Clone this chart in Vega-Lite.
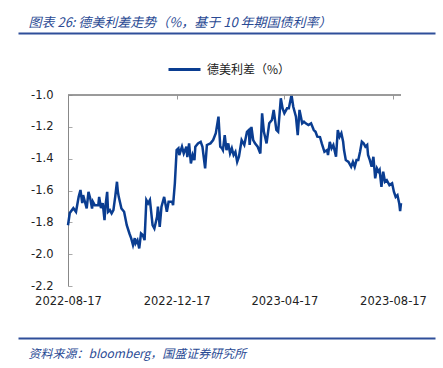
{
  "$schema": "https://vega.github.io/schema/vega-lite/v6.json",
  "width": 417,
  "height": 191,
  "autosize": {"type": "none"},
  "padding": {"left": 18, "top": 95, "right": 8, "bottom": 82},
  "background": "white",
  "config": {
    "view": {"stroke": null},
    "axis": {"grid": false}
  },
  "resolve": {"axis": {"x": "independent", "y": "independent"}},
  "data": {"values": [
    {"d": "2022-08-17", "v": -1.818}, {"d": "2022-08-19", "v": -1.742}, {"d": "2022-08-23", "v": -1.711}, {"d": "2022-08-26", "v": -1.734},
    {"d": "2022-08-29", "v": -1.64}, {"d": "2022-08-31", "v": -1.597}, {"d": "2022-09-02", "v": -1.679}, {"d": "2022-09-03", "v": -1.629},
    {"d": "2022-09-05", "v": -1.671}, {"d": "2022-09-07", "v": -1.713}, {"d": "2022-09-09", "v": -1.608}, {"d": "2022-09-11", "v": -1.65},
    {"d": "2022-09-13", "v": -1.713}, {"d": "2022-09-14", "v": -1.671}, {"d": "2022-09-16", "v": -1.692}, {"d": "2022-09-20", "v": -1.692},
    {"d": "2022-09-21", "v": -1.64}, {"d": "2022-09-23", "v": -1.711}, {"d": "2022-09-25", "v": -1.679}, {"d": "2022-09-27", "v": -1.786},
    {"d": "2022-09-28", "v": -1.702}, {"d": "2022-09-30", "v": -1.608}, {"d": "2022-10-01", "v": -1.734}, {"d": "2022-10-03", "v": -1.723},
    {"d": "2022-10-05", "v": -1.744}, {"d": "2022-10-07", "v": -1.723}, {"d": "2022-10-09", "v": -1.64}, {"d": "2022-10-11", "v": -1.545},
    {"d": "2022-10-12", "v": -1.608}, {"d": "2022-10-13", "v": -1.64}, {"d": "2022-10-16", "v": -1.713}, {"d": "2022-10-19", "v": -1.734},
    {"d": "2022-10-22", "v": -1.818}, {"d": "2022-10-25", "v": -1.87}, {"d": "2022-10-27", "v": -1.901}, {"d": "2022-10-29", "v": -1.943},
    {"d": "2022-10-31", "v": -1.899}, {"d": "2022-11-01", "v": -1.932}, {"d": "2022-11-03", "v": -1.912}, {"d": "2022-11-05", "v": -1.964},
    {"d": "2022-11-07", "v": -1.87}, {"d": "2022-11-09", "v": -1.88}, {"d": "2022-11-11", "v": -1.912}, {"d": "2022-11-13", "v": -1.66},
    {"d": "2022-11-15", "v": -1.681}, {"d": "2022-11-17", "v": -1.66}, {"d": "2022-11-20", "v": -1.818}, {"d": "2022-11-22", "v": -1.839},
    {"d": "2022-11-25", "v": -1.765}, {"d": "2022-11-26", "v": -1.702}, {"d": "2022-11-28", "v": -1.828}, {"d": "2022-11-30", "v": -1.702},
    {"d": "2022-12-03", "v": -1.64}, {"d": "2022-12-06", "v": -1.734}, {"d": "2022-12-08", "v": -1.671}, {"d": "2022-12-12", "v": -1.671},
    {"d": "2022-12-13", "v": -1.692}, {"d": "2022-12-15", "v": -1.555}, {"d": "2022-12-17", "v": -1.346}, {"d": "2022-12-19", "v": -1.335},
    {"d": "2022-12-20", "v": -1.377}, {"d": "2022-12-23", "v": -1.325}, {"d": "2022-12-25", "v": -1.367}, {"d": "2022-12-28", "v": -1.325},
    {"d": "2022-12-29", "v": -1.39}, {"d": "2022-12-31", "v": -1.304}, {"d": "2023-01-02", "v": -1.43}, {"d": "2023-01-04", "v": -1.377},
    {"d": "2023-01-06", "v": -1.409}, {"d": "2023-01-07", "v": -1.325}, {"d": "2023-01-10", "v": -1.304}, {"d": "2023-01-13", "v": -1.294},
    {"d": "2023-01-15", "v": -1.325}, {"d": "2023-01-18", "v": -1.461}, {"d": "2023-01-20", "v": -1.314}, {"d": "2023-01-24", "v": -1.304},
    {"d": "2023-01-27", "v": -1.283}, {"d": "2023-01-30", "v": -1.24}, {"d": "2023-02-02", "v": -1.136}, {"d": "2023-02-04", "v": -1.325},
    {"d": "2023-02-06", "v": -1.335}, {"d": "2023-02-07", "v": -1.346}, {"d": "2023-02-09", "v": -1.252}, {"d": "2023-02-11", "v": -1.346},
    {"d": "2023-02-13", "v": -1.304}, {"d": "2023-02-15", "v": -1.367}, {"d": "2023-02-17", "v": -1.335}, {"d": "2023-02-19", "v": -1.377},
    {"d": "2023-02-21", "v": -1.357}, {"d": "2023-02-23", "v": -1.42}, {"d": "2023-02-25", "v": -1.388}, {"d": "2023-02-28", "v": -1.283},
    {"d": "2023-03-03", "v": -1.314}, {"d": "2023-03-06", "v": -1.231}, {"d": "2023-03-08", "v": -1.22}, {"d": "2023-03-09", "v": -1.314},
    {"d": "2023-03-11", "v": -1.2}, {"d": "2023-03-13", "v": -1.283}, {"d": "2023-03-15", "v": -1.304}, {"d": "2023-03-18", "v": -1.325},
    {"d": "2023-03-21", "v": -1.367}, {"d": "2023-03-23", "v": -1.115}, {"d": "2023-03-25", "v": -1.231}, {"d": "2023-03-28", "v": -1.304},
    {"d": "2023-03-31", "v": -1.178}, {"d": "2023-04-03", "v": -1.157}, {"d": "2023-04-05", "v": -1.094}, {"d": "2023-04-08", "v": -1.22},
    {"d": "2023-04-10", "v": -1.231}, {"d": "2023-04-13", "v": -1.021}, {"d": "2023-04-15", "v": -1.084}, {"d": "2023-04-17", "v": -1.115},
    {"d": "2023-04-20", "v": -1.084}, {"d": "2023-04-22", "v": -1.084}, {"d": "2023-04-25", "v": -1.0}, {"d": "2023-04-27", "v": -1.074},
    {"d": "2023-04-30", "v": -1.136}, {"d": "2023-05-02", "v": -1.252}, {"d": "2023-05-04", "v": -1.094}, {"d": "2023-05-07", "v": -1.178},
    {"d": "2023-05-09", "v": -1.168}, {"d": "2023-05-11", "v": -1.178}, {"d": "2023-05-14", "v": -1.189}, {"d": "2023-05-17", "v": -1.178},
    {"d": "2023-05-20", "v": -1.22}, {"d": "2023-05-22", "v": -1.231}, {"d": "2023-05-24", "v": -1.262}, {"d": "2023-05-27", "v": -1.264},
    {"d": "2023-05-29", "v": -1.304}, {"d": "2023-06-01", "v": -1.357}, {"d": "2023-06-04", "v": -1.346}, {"d": "2023-06-05", "v": -1.377},
    {"d": "2023-06-07", "v": -1.294}, {"d": "2023-06-09", "v": -1.335}, {"d": "2023-06-11", "v": -1.314}, {"d": "2023-06-14", "v": -1.388},
    {"d": "2023-06-16", "v": -1.22}, {"d": "2023-06-18", "v": -1.262}, {"d": "2023-06-20", "v": -1.24}, {"d": "2023-06-22", "v": -1.294},
    {"d": "2023-06-23", "v": -1.346}, {"d": "2023-06-25", "v": -1.409}, {"d": "2023-06-28", "v": -1.42}, {"d": "2023-07-01", "v": -1.451},
    {"d": "2023-07-03", "v": -1.42}, {"d": "2023-07-05", "v": -1.451}, {"d": "2023-07-07", "v": -1.409}, {"d": "2023-07-09", "v": -1.409},
    {"d": "2023-07-11", "v": -1.357}, {"d": "2023-07-13", "v": -1.294}, {"d": "2023-07-15", "v": -1.304}, {"d": "2023-07-17", "v": -1.325},
    {"d": "2023-07-19", "v": -1.314}, {"d": "2023-07-20", "v": -1.377}, {"d": "2023-07-22", "v": -1.409}, {"d": "2023-07-24", "v": -1.451},
    {"d": "2023-07-26", "v": -1.388}, {"d": "2023-07-28", "v": -1.524}, {"d": "2023-07-30", "v": -1.461}, {"d": "2023-08-01", "v": -1.482},
    {"d": "2023-08-02", "v": -1.472}, {"d": "2023-08-04", "v": -1.577}, {"d": "2023-08-06", "v": -1.482}, {"d": "2023-08-08", "v": -1.545},
    {"d": "2023-08-10", "v": -1.535}, {"d": "2023-08-13", "v": -1.566}, {"d": "2023-08-16", "v": -1.555}, {"d": "2023-08-18", "v": -1.608},
    {"d": "2023-08-20", "v": -1.64}, {"d": "2023-08-22", "v": -1.629}, {"d": "2023-08-24", "v": -1.681}, {"d": "2023-08-25", "v": -1.73},
    {"d": "2023-08-26", "v": -1.68}
  ]},
  "layer": [
    {
      "mark": {"type": "line", "strokeWidth": 2.5, "interpolate": "linear"},
      "encoding": {
        "x": {
          "field": "d", "type": "temporal",
          "scale": {"type": "utc", "domain": [{"year": 2022, "month": 6, "date": 21, "hours": 20, "minutes": 24, "utc": true}, {"year": 2023, "month": 10, "date": 3, "hours": 4, "utc": true}]},
          "axis": {
            "orient": "bottom", "domain": false, "ticks": false, "title": null,
            "values": [{"year": 2022, "month": 8, "date": 17, "utc": true}, {"year": 2022, "month": 12, "date": 17, "utc": true}, {"year": 2023, "month": 4, "date": 17, "utc": true}, {"year": 2023, "month": 8, "date": 17, "utc": true}],
            "labelExpr": "utcFormat(datum.value, '%Y-%m-%d')",
            "labelPadding": 9, "labelFont": "DejaVu Sans", "labelFontSize": 11.5, "labelColor": "#222222",
            "labelFlush": false, "labelOverlap": false
          }
        },
        "y": {
          "field": "v", "type": "quantitative",
          "scale": {"domain": [-2.2, -1.0], "nice": false, "zero": false},
          "axis": {
            "orient": "left", "offset": -50, "title": null,
            "values": [-2.2, -2.0, -1.8, -1.6, -1.4, -1.2, -1.0],
            "labelExpr": "replace(format(datum.value, '.1f'), '\u2212', '-')",
            "domainColor": "#888888", "tickColor": "#aaaaaa", "tickSize": -4,
            "labelPadding": 19, "labelFont": "DejaVu Sans", "labelFontSize": 11.5, "labelColor": "#222222"
          }
        },
        "color": {
          "datum": "德美利差（%）",
          "scale": {"range": ["#0a3d91"]},
          "legend": {
            "orient": "none", "legendX": 149, "legendY": -43, "title": null, "direction": "horizontal",
            "symbolType": "stroke", "symbolSize": 1024, "symbolStrokeWidth": 3,
            "labelFont": "Noto Sans CJK SC", "labelFontSize": 12, "labelColor": "#222222", "labelOffset": 5
          }
        }
      }
    },
    {
      "data": {"values": [{}]},
      "mark": {"type": "rule", "color": "#8c8c8c", "strokeWidth": 1},
      "encoding": {
        "x": {
          "datum": {"year": 2022, "month": 8, "date": 17, "utc": true}, "type": "temporal",
          "scale": {"type": "utc", "domain": [{"year": 2022, "month": 6, "date": 21, "hours": 20, "minutes": 24, "utc": true}, {"year": 2023, "month": 10, "date": 3, "hours": 4, "utc": true}]},
          "axis": {
            "orient": "top", "offset": 62, "domainColor": "#2f4f9a", "domainWidth": 2, "ticks": false, "labels": false,
            "title": "图表 26: 德美利差走势（%，基于 10 年期国债利率）",
            "titleAnchor": "start", "titleX": 10, "titleY": -11, "titleAlign": "left", "titleBaseline": "middle",
            "titleFont": "Noto Sans CJK SC", "titleFontSize": 13, "titleFontStyle": "italic", "titleFontWeight": "normal", "titleColor": "#2a4a94"
          }
        },
        "x2": {"datum": {"year": 2023, "month": 8, "date": 26, "utc": true}},
        "y": {"datum": -1.0, "type": "quantitative", "scale": {"domain": [-2.2, -1.0], "nice": false, "zero": false}, "axis": null}
      }
    },
    {
      "data": {"values": [{}]},
      "mark": {"type": "rule", "color": "#8c8c8c", "strokeWidth": 1},
      "encoding": {
        "x": {
          "datum": {"year": 2022, "month": 8, "date": 17, "utc": true}, "type": "temporal",
          "scale": {"type": "utc", "domain": [{"year": 2022, "month": 6, "date": 21, "hours": 20, "minutes": 24, "utc": true}, {"year": 2023, "month": 10, "date": 3, "hours": 4, "utc": true}]},
          "axis": {
            "orient": "bottom", "offset": 52, "domainColor": "#2f4f9a", "domainWidth": 2, "ticks": false, "labels": false,
            "title": "资料来源：bloomberg，国盛证券研究所",
            "titleAnchor": "start", "titleX": 10, "titleY": 15, "titleAlign": "left", "titleBaseline": "middle",
            "titleFont": "Noto Sans CJK SC", "titleFontSize": 12, "titleFontStyle": "italic", "titleFontWeight": "normal", "titleColor": "#2a4a94"
          }
        },
        "x2": {"datum": {"year": 2023, "month": 8, "date": 26, "utc": true}},
        "y": {"datum": -1.0, "type": "quantitative", "scale": {"domain": [-2.2, -1.0], "nice": false, "zero": false}, "axis": null}
      }
    },
    {
      "data": {"values": [{}]},
      "mark": {"type": "rule", "color": "#8c8c8c", "strokeWidth": 1},
      "encoding": {
        "x": {
          "datum": {"year": 2022, "month": 8, "date": 17, "utc": true}, "type": "temporal",
          "scale": {"type": "utc", "domain": [{"year": 2022, "month": 6, "date": 21, "hours": 20, "minutes": 24, "utc": true}, {"year": 2023, "month": 10, "date": 3, "hours": 4, "utc": true}]},
          "axis": {
            "orient": "top", "offset": 0, "domain": false, "labels": false, "ticks": true, "tickSize": -4, "tickColor": "#999999", "title": null,
            "values": [{"year": 2022, "month": 12, "date": 17, "utc": true}, {"year": 2023, "month": 4, "date": 17, "utc": true}, {"year": 2023, "month": 8, "date": 17, "utc": true}]
          }
        },
        "x2": {"datum": {"year": 2023, "month": 8, "date": 26, "utc": true}},
        "y": {"datum": -1.0, "type": "quantitative", "scale": {"domain": [-2.2, -1.0], "nice": false, "zero": false}, "axis": null}
      }
    }
  ]
}
